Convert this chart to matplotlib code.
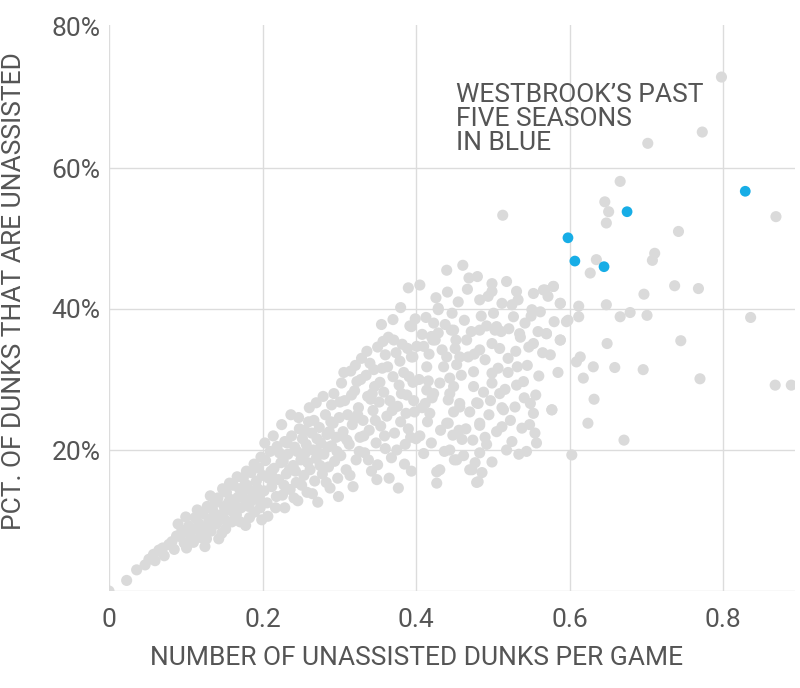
import matplotlib
matplotlib.use("Agg")
import matplotlib.pyplot as plt

# ---- data (x = unassisted dunks per game, y = pct of dunks unassisted, in %) ----
gray_x = [
    0.0, 0.023, 0.036, 0.047, 0.052, 0.058, 0.06, 0.065, 0.07, 0.072, 0.078, 0.082, 0.085,
    0.088, 0.093, 0.095, 0.098, 0.101, 0.104, 0.106, 0.108, 0.112, 0.114, 0.117, 0.119,
    0.122, 0.125, 0.125, 0.128, 0.13, 0.133, 0.135, 0.138, 0.14, 0.142, 0.145, 0.147, 0.15,
    0.151, 0.153, 0.155, 0.158, 0.16, 0.162, 0.164, 0.166, 0.168, 0.17, 0.172, 0.175, 0.177,
    0.178, 0.18, 0.182, 0.185, 0.187, 0.19, 0.192, 0.194, 0.196, 0.199, 0.2,
    0.202, 0.204, 0.206, 0.208, 0.21, 0.212, 0.215, 0.217, 0.219, 0.221, 0.224, 0.226, 0.229,
    0.229, 0.231, 0.233, 0.236, 0.238, 0.24, 0.242, 0.244, 0.246, 0.248, 0.25, 0.252, 0.254,
    0.256, 0.258, 0.26, 0.262, 0.264, 0.266, 0.268, 0.27, 0.27, 0.272, 0.274, 0.276, 0.278,
    0.28, 0.282, 0.284, 0.286, 0.288, 0.29, 0.29, 0.292, 0.294, 0.296, 0.298, 0.3,
    0.302, 0.303, 0.305, 0.307, 0.309, 0.311, 0.313, 0.315, 0.317, 0.318, 0.32, 0.322, 0.323,
    0.325, 0.327, 0.329, 0.331, 0.333, 0.335, 0.337, 0.339, 0.34, 0.342, 0.344, 0.346, 0.348,
    0.35, 0.35, 0.352, 0.354, 0.356, 0.358, 0.36, 0.36, 0.362, 0.364, 0.366, 0.368, 0.37,
    0.372, 0.374, 0.376, 0.377, 0.378, 0.38, 0.382, 0.384, 0.386, 0.388, 0.39, 0.392, 0.394,
    0.394, 0.396, 0.398, 0.4,
    0.405, 0.44, 0.469, 0.461, 0.429, 0.394, 0.42, 0.446, 0.41, 0.396, 0.401, 0.414, 0.422,
    0.429, 0.483, 0.429, 0.423, 0.449, 0.483, 0.466, 0.425, 0.499, 0.483, 0.451, 0.44, 0.457,
    0.468, 0.49, 0.436, 0.453, 0.475, 0.499, 0.444, 0.431, 0.449, 0.475, 0.499, 0.414, 0.423,
    0.444, 0.412, 0.442, 0.457, 0.481, 0.449, 0.47, 0.418, 0.442, 0.483, 0.457, 0.479, 0.44,
    0.448, 0.483, 0.444, 0.453, 0.483, 0.477, 0.499, 0.473, 0.481, 0.431, 0.427, 0.427, 0.45,
    0.47, 0.479, 0.405, 0.41, 0.415, 0.42, 0.432, 0.437, 0.46, 0.465, 0.49, 0.495,
    0.499, 0.518, 0.499, 0.531, 0.553, 0.568, 0.579, 0.512, 0.525, 0.533, 0.551, 0.588, 0.501,
    0.527, 0.542, 0.559, 0.570, 0.596, 0.588, 0.553, 0.509, 0.52, 0.531, 0.54, 0.509, 0.514,
    0.529, 0.549, 0.553, 0.577, 0.512, 0.512, 0.538, 0.555, 0.525, 0.557, 0.544, 0.513, 0.52,
    0.53, 0.545, 0.56, 0.575, 0.585, 0.505, 0.535,
    0.798, 0.773, 0.702, 0.666, 0.646, 0.651, 0.648, 0.869, 0.742, 0.711, 0.708, 0.635, 0.627,
    0.579, 0.566, 0.737, 0.768, 0.697, 0.648, 0.612, 0.588, 0.598, 0.612, 0.666, 0.679, 0.701,
    0.836, 0.570, 0.588, 0.649, 0.745, 0.614, 0.609, 0.659, 0.696, 0.631, 0.618, 0.770, 0.868,
    0.889, 0.632, 0.577, 0.624, 0.671, 0.603,
    # extra points filling the dense band
    0.09, 0.1, 0.11, 0.115, 0.12, 0.127, 0.132, 0.137, 0.143, 0.148, 0.152, 0.157, 0.163,
    0.167, 0.171, 0.174, 0.179, 0.183, 0.186, 0.189, 0.193, 0.197, 0.198,
    0.203, 0.207, 0.211, 0.214, 0.218, 0.222, 0.225, 0.228, 0.232, 0.235, 0.237, 0.241, 0.245,
    0.247, 0.251, 0.255, 0.259, 0.261, 0.265, 0.267, 0.271, 0.275, 0.279, 0.283, 0.285, 0.289,
    0.293, 0.297, 0.299,
    0.301, 0.306, 0.31, 0.314, 0.316, 0.319, 0.321, 0.326, 0.328, 0.332, 0.336, 0.338, 0.341,
    0.345, 0.347, 0.349, 0.353, 0.357, 0.359, 0.363, 0.365, 0.369, 0.371, 0.375, 0.379, 0.381,
    0.385, 0.387, 0.389, 0.391, 0.393, 0.397, 0.399, 0.37, 0.38, 0.355, 0.39,
    0.404, 0.408, 0.413, 0.417, 0.421, 0.426, 0.434, 0.438, 0.441, 0.447, 0.452, 0.455, 0.459,
    0.463, 0.467, 0.472, 0.476, 0.48, 0.485, 0.488, 0.492, 0.494, 0.497, 0.456, 0.462, 0.474,
    0.486, 0.492, 0.408, 0.416,
    0.503, 0.507, 0.511, 0.516, 0.521, 0.523, 0.532, 0.536, 0.541, 0.547, 0.55, 0.556, 0.562,
    0.565, 0.572, 0.58, 0.505, 0.518, 0.534, 0.548,
    0.134, 0.156, 0.176, 0.195, 0.213, 0.227, 0.243, 0.257, 0.273, 0.287, 0.304, 0.324, 0.343,
]
gray_y = [
    0.0, 1.5, 3.0, 3.7, 4.5, 5.2, 4.3, 5.8, 6.1, 5.0, 6.6, 7.0, 5.9,
    7.8, 7.7, 8.6, 6.8, 6.1, 9.2, 8.0, 7.2, 10.4, 8.8, 9.6, 7.6,
    11.0, 6.3, 9.0, 12.0, 10.2, 8.5, 11.5, 12.5, 9.5, 13.2, 10.8, 8.2, 12.0,
    10.1, 14.0, 11.5, 13.0, 9.8, 15.0, 12.2, 10.8, 13.3, 14.5, 11.8, 16.0, 13.0,
    9.3, 15.0, 12.0, 16.8, 14.0, 11.2, 15.6, 17.5, 13.4, 10.1, 16.4,
    14.2, 18.5, 12.5, 16.0, 19.8, 14.8, 17.4, 11.8, 20.5, 15.8, 18.2, 13.6, 21.2,
    11.8, 16.6, 19.4, 14.4, 22.0, 17.8, 20.4, 15.4, 12.8, 23.0, 18.6, 21.6, 16.4,
    19.6, 14.0, 24.0, 17.2, 22.4, 20.0, 15.6, 26.7, 18.8, 12.6, 23.2, 21.0, 16.6,
    19.4, 25.0, 22.2, 17.6, 14.6, 26.4, 20.6, 23.8, 18.4, 21.8, 16.0, 24.6,
    19.2, 29.5, 22.6, 27.0, 17.2, 25.0, 20.8, 31.2, 23.6, 14.8, 28.4, 18.6, 29.7,
    26.0, 21.8, 33.0, 24.2, 19.6, 30.6, 27.6, 22.8, 32.3, 17.0, 25.6, 29.0, 21.0,
    17.9, 34.6, 26.8, 23.4, 31.6, 28.2, 33.5, 20.2, 24.8, 36.0, 27.0, 18.9, 30.4,
    22.4, 33.8, 26.2, 14.6, 29.2, 24.0, 35.0, 31.0, 20.8, 27.8, 23.0, 37.6, 17.0,
    33.2, 29.6, 25.4, 21.6,
    43.4, 45.5, 44.4, 46.2, 40.1, 37.5, 36.1, 37.0, 34.7, 33.2, 34.7, 31.8, 35.6,
    36.6, 41.3, 39.9, 38.0, 37.0, 37.0, 35.6, 35.6, 35.1, 34.2, 34.4, 33.2, 33.2,
    33.2, 32.8, 31.8, 32.1, 31.1, 30.9, 30.2, 29.5, 29.0, 29.0, 29.5, 28.5, 28.0,
    28.0, 26.6, 27.1, 26.6, 26.6, 25.4, 25.4, 25.2, 23.8, 23.8, 26.1, 26.7, 23.8,
    22.1, 23.5, 20.0, 18.6, 19.6, 18.2, 18.3, 17.2, 15.5, 17.2, 16.9, 15.3, 18.6,
    17.2, 15.4, 22.0, 19.5, 24.0, 21.0, 22.8, 19.8, 21.5, 23.0, 21.8, 25.0,
    43.6, 43.9, 42.5, 42.5, 42.2, 42.7, 43.2, 40.8, 40.6, 41.3, 39.9, 40.8, 39.4,
    38.9, 38.0, 36.8, 36.5, 38.2, 35.6, 35.1, 34.4, 33.0, 29.2, 29.7, 28.0, 25.7,
    26.1, 26.6, 25.2, 25.7, 26.0, 23.3, 23.1, 22.4, 21.2, 21.0, 19.8, 53.3, 31.0,
    34.0, 32.0, 30.5, 33.5, 31.0, 37.5, 36.5,
    72.9, 65.1, 63.5, 58.1, 55.2, 53.8, 52.2, 53.1, 51.0, 47.9, 46.9, 47.0, 45.1,
    43.2, 42.7, 43.3, 42.9, 42.1, 40.6, 40.4, 40.8, 38.4, 38.9, 38.9, 39.5, 39.1,
    38.8, 36.5, 35.6, 35.1, 35.5, 33.2, 32.5, 31.7, 31.4, 31.8, 30.2, 30.1, 29.2,
    29.2, 27.2, 25.7, 23.8, 21.4, 19.3,
    # extra points filling the dense band
    9.5, 10.5, 6.9, 11.5, 8.4, 7.4, 13.5, 10.0, 7.4, 14.5, 8.8, 15.3, 11.0,
    16.2, 9.8, 13.9, 17.0, 10.4, 12.8, 18.0, 14.6, 11.8, 19.0,
    21.0, 10.6, 17.0, 22.0, 13.4, 19.6, 23.6, 15.0, 21.0, 17.2, 25.0, 13.2, 19.8,
    24.6, 15.0, 22.8, 18.2, 26.0, 13.8, 24.2, 21.6, 17.8, 27.6, 15.4, 20.4, 24.0,
    28.0, 19.8, 13.4,
    26.8, 31.0, 21.4, 16.4, 27.8, 24.4, 32.0, 19.8, 30.0, 22.0, 34.0, 18.6, 27.2,
    31.4, 24.2, 15.8, 29.6, 35.4, 22.0, 31.8, 16.0, 25.6, 35.6, 20.0, 32.6, 28.0,
    18.0, 25.2, 34.4, 30.4, 21.8, 27.0, 38.6, 38.5, 40.2, 37.8, 43.0,
    30.0, 36.4, 38.8, 33.6, 27.4, 41.6, 34.2, 37.8, 42.4, 39.4, 35.6, 41.0, 30.6,
    38.4, 42.8, 36.8, 33.6, 44.6, 39.0, 28.2, 37.6, 41.8, 27.0, 22.8, 19.2, 21.4,
    16.8, 20.8, 26.0, 29.8,
    37.0, 31.6, 36.8, 28.6, 37.2, 24.2, 31.8, 36.0, 27.4, 34.6, 39.0, 27.8, 39.6,
    33.8, 41.8, 38.2, 22.6, 20.0, 19.4, 23.6,
    9.9, 12.6, 14.8, 13.0, 16.2, 18.4, 17.0, 20.8, 19.6, 22.6, 22.0, 25.0, 28.0,
]

blue_x = [0.598, 0.607, 0.645, 0.675, 0.829]
blue_y = [50.1, 46.8, 46.0, 53.8, 56.7]

x_ticks = [0, 0.2, 0.4, 0.6, 0.8]
x_tick_labels = ["0", "0.2", "0.4", "0.6", "0.8"]
y_ticks = [0.2, 0.4, 0.6, 0.8]
y_tick_labels = ["20%", "40%", "60%", "80%"]

TEXT = "#555555"
GRID = "#dcdcdc"
FONT = "Roboto"

plt.rcParams["font.family"] = [FONT, "DejaVu Sans"]

fig = plt.figure(figsize=(8, 6.88), dpi=100)
fig.patch.set_facecolor("white")
ax = fig.add_axes([109 / 800, 97 / 688, 686 / 800, 566 / 688])
ax.set_facecolor("white")

ax.set_xlim(0, 686 / 767.5)
ax.set_ylim(0, 566 / 705)

for xv in x_ticks:
    ax.axvline(xv, color=GRID, lw=1, zorder=0)
for yv in [0, 0.2, 0.4, 0.6]:
    ax.axhline(yv, color=GRID, lw=1, zorder=0)

ax.scatter(gray_x, [v / 100 for v in gray_y], s=64, color="#dadada",
           edgecolors="none", zorder=2)
ax.scatter(blue_x, [v / 100 for v in blue_y], s=60, color="#17ade6",
           edgecolors="none", zorder=3)

for s in ax.spines.values():
    s.set_visible(False)

ax.set_xticks(x_ticks)
ax.set_xticklabels(x_tick_labels)
ax.set_yticks(y_ticks)
ax.set_yticklabels(y_tick_labels)
ax.tick_params(axis="both", length=0, labelsize=19, labelcolor=TEXT)
ax.tick_params(axis="x", pad=12)
ax.tick_params(axis="y", pad=6)

fig.text(417 / 800, 1 - 658 / 688, "NUMBER OF UNASSISTED DUNKS PER GAME",
         ha="center", va="center", fontsize=19, color=TEXT)
fig.text(14 / 800, 1 - 291 / 688, "PCT. OF DUNKS THAT ARE UNASSISTED",
         ha="center", va="center", rotation=90, fontsize=19, color=TEXT)

ax.text(0.452, 0.72, "WESTBROOK\u2019S PAST\nFIVE SEASONS\nIN BLUE",
        transform=ax.transData, ha="left", va="top", fontsize=19, color=TEXT,
        linespacing=1.0)

fig.savefig("out.png", dpi=100, facecolor="white")
